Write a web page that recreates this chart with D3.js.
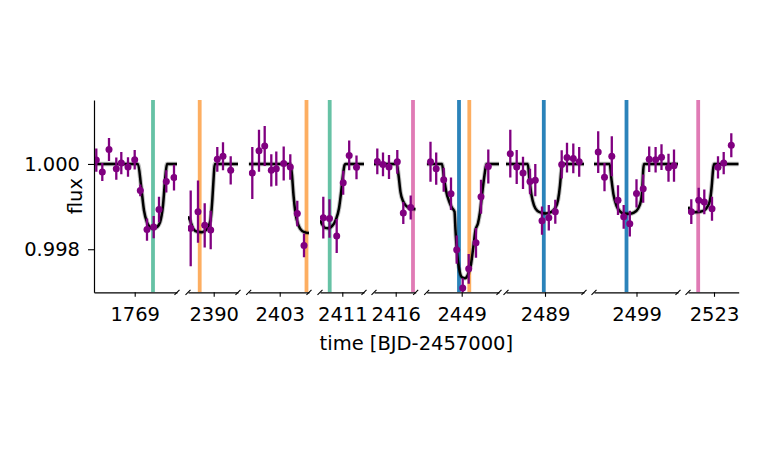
<!DOCTYPE html>
<html>
<head>
<meta charset="utf-8">
<script src="https://cdn.jsdelivr.net/npm/d3@7"></script>
<style>
  body { margin: 0; background: #fff; }
  svg { display: block; font-family: "DejaVu Sans", sans-serif; }
</style>
</head>
<body>
<svg id="chart"></svg>
<script>
// one tick (and one window) per transit
const panelTicks = [1769, 2390, 2403, 2411, 2416, 2449, 2489, 2499, 2523];
const panelSpans = [
  [1768.593, 1769.423], [2389.743, 2390.243], [2402.69, 2403.293],
  [2410.777, 2411.217], [2415.783, 2416.2], [2448.65, 2449.373],
  [2488.61, 2489.39], [2498.575, 2499.415], [2522.74, 2523.247]
];

// binned photometry
const binTime = [
  [1768.616, 1768.676, 1768.743, 1768.816, 1768.866, 1768.933, 1769.0, 1769.056, 1769.123, 1769.19, 1769.243, 1769.316, 1769.393],
  [2389.77, 2389.843, 2389.91, 2389.97, 2390.036, 2390.093, 2390.17],
  [2402.726, 2402.793, 2402.85, 2402.916, 2402.966, 2403.04, 2403.106, 2403.176, 2403.243],
  [2410.81, 2410.872, 2410.944, 2411.009, 2411.069, 2411.142],
  [2415.816, 2415.873, 2415.933, 2416.016, 2416.076, 2416.15],
  [2448.688, 2448.745, 2448.82, 2448.893, 2448.95, 2449.01, 2449.07, 2449.143, 2449.193, 2449.266],
  [2488.653, 2488.717, 2488.78, 2488.85, 2488.903, 2488.97, 2489.038, 2489.103, 2489.167, 2489.22, 2489.283, 2489.342],
  [2498.617, 2498.68, 2498.753, 2498.815, 2498.872, 2498.933, 2499.0, 2499.067, 2499.127, 2499.191, 2499.25, 2499.32, 2499.375],
  [2522.773, 2522.847, 2522.903, 2522.98, 2523.04, 2523.097, 2523.173]
];
const binFlux = [
  [1.00009, 0.99981, 1.00034, 0.99989, 1.00002, 0.99993, 1.0001, 0.99938, 0.99846, 0.99852, 0.99893, 0.99959, 0.99968],
  [0.99849, 0.99888, 0.99856, 0.99845, 1.00011, 1.00018, 0.99985],
  [0.99979, 1.00031, 1.00042, 0.99985, 0.99989, 1.00001, 0.99993, 0.99884, 0.99809],
  [0.99874, 0.99872, 0.99831, 0.99956, 1.0002, 0.99992],
  [1.00006, 0.99999, 0.99993, 1.00005, 0.99885, 0.99898],
  [1.00005, 0.99989, 0.99963, 0.9993, 0.99799, 0.99709, 0.99754, 0.99815, 0.99923, 0.99994],
  [1.00024, 0.99993, 0.99979, 0.99959, 0.99962, 0.99867, 0.99874, 0.99888, 0.99999, 1.00015, 1.00013, 1.00005],
  [1.00028, 0.99969, 1.00018, 0.99915, 0.99876, 0.9986, 0.99931, 0.99942, 1.00011, 1.0001, 1.00016, 0.99991, 0.99996],
  [0.99888, 0.99915, 0.99911, 0.99895, 0.99992, 1.00002, 1.00044]
];
const binErr = [
  [0.00027, 0.00021, 0.00027, 0.00026, 0.00026, 0.00023, 0.00023, 0.00014, 0.00026, 0.00026, 0.0003, 0.00026, 0.0003],
  [0.00089, 0.00073, 0.00052, 0.00045, 0.00029, 0.00033, 0.00033],
  [0.00061, 0.00049, 0.00047, 0.00038, 0.0004, 0.0004, 0.0003, 0.0003, 0.00028],
  [0.00049, 0.00045, 0.0004, 0.00028, 0.00035, 0.00028],
  [0.0003, 0.00028, 0.00028, 0.00028, 0.00026, 0.00028],
  [0.00047, 0.00038, 0.00028, 0.00038, 0.00033, 0.00023, 0.00035, 0.00035, 0.0004, 0.0004],
  [0.00056, 0.0004, 0.00038, 0.0003, 0.00038, 0.00033, 0.0003, 0.00028, 0.00033, 0.00035, 0.00035, 0.00035],
  [0.00049, 0.00033, 0.00047, 0.00035, 0.00028, 0.0003, 0.00033, 0.00033, 0.0003, 0.0003, 0.0003, 0.00033, 0.00038],
  [0.00029, 0.00029, 0.00029, 0.00028, 0.00026, 0.00026, 0.00028]
];

// transit model
const modelTime = [
  [1768.593, 1769.033, 1769.063, 1769.093, 1769.123, 1769.153, 1769.183, 1769.223, 1769.253, 1769.283, 1769.308, 1769.323, 1769.423],
  [2389.743, 2389.763, 2389.793, 2389.836, 2389.883, 2389.936, 2389.968, 2389.986, 2389.998, 2390.01, 2390.243],
  [2402.69, 2403.106, 2403.123, 2403.138, 2403.158, 2403.188, 2403.223, 2403.263, 2403.293],
  [2410.777, 2410.797, 2410.827, 2410.857, 2410.897, 2410.937, 2410.967, 2410.987, 2411.007, 2411.022, 2411.032, 2411.217],
  [2415.783, 2416.01, 2416.028, 2416.048, 2416.073, 2416.103, 2416.143, 2416.2],
  [2448.65, 2448.803, 2448.823, 2448.843, 2448.873, 2448.903, 2448.928, 2448.938, 2448.953, 2448.973, 2449.003, 2449.033, 2449.063, 2449.093, 2449.118, 2449.138, 2449.163, 2449.183, 2449.203, 2449.228, 2449.248, 2449.373],
  [2488.61, 2488.828, 2488.845, 2488.865, 2488.89, 2488.925, 2488.96, 2489.01, 2489.06, 2489.1, 2489.13, 2489.15, 2489.163, 2489.17, 2489.39],
  [2498.575, 2498.732, 2498.75, 2498.77, 2498.8, 2498.835, 2498.875, 2498.925, 2498.975, 2499.015, 2499.045, 2499.06, 2499.067, 2499.075, 2499.415],
  [2522.74, 2522.77, 2522.81, 2522.86, 2522.9, 2522.935, 2522.96, 2522.978, 2522.99, 2523.0, 2523.247]
];
const modelFlux = [
  [1, 1, 0.9995, 0.99891, 0.99863, 0.99852, 0.99848, 0.99852, 0.99863, 0.99903, 0.99974, 1, 1],
  [0.99877, 0.99868, 0.99849, 0.99841, 0.9984, 0.99849, 0.99868, 0.99915, 0.99962, 1, 1],
  [1, 1, 0.99974, 0.99927, 0.99884, 0.99856, 0.99843, 0.99839, 0.99838],
  [0.99868, 0.99859, 0.9985, 0.99849, 0.99854, 0.9987, 0.99896, 0.99931, 0.99974, 0.99997, 1, 1],
  [1, 1, 0.99974, 0.99934, 0.99913, 0.99902, 0.99896, 0.99894],
  [1, 1, 0.99967, 0.99938, 0.99913, 0.99897, 0.99888, 0.99845, 0.99793, 0.99756, 0.99734, 0.99732, 0.99741, 0.99765, 0.99809, 0.99845, 0.99861, 0.99887, 0.99927, 0.99974, 1, 1],
  [1, 1, 0.99962, 0.99927, 0.99903, 0.9989, 0.99886, 0.99884, 0.99887, 0.99896, 0.99915, 0.9995, 0.99985, 1, 1],
  [1, 1, 0.99963, 0.99928, 0.99902, 0.99889, 0.99884, 0.99883, 0.99886, 0.99895, 0.99914, 0.9995, 0.99985, 1, 1],
  [0.99899, 0.9989, 0.99887, 0.99888, 0.99891, 0.999, 0.99915, 0.9995, 0.99985, 1, 1]
];

// predicted mid-transit times, one colour per planet
const markerTime = [1769.183, 2389.86, 2403.268, 2410.874, 2416.173, 2448.973, 2449.076, 2488.988, 2498.9, 2522.842];
const markerColor = ['#66c2a5', '#fdae61', '#fdae61', '#66c2a5', '#e07bb5', '#2b83ba', '#fdae61', '#2b83ba', '#2b83ba', '#e07bb5'];

const yTickValues = [0.998, 1.0];

const width = 758;
const height = 465;
const plotLeft = 94;
const plotTop = 100;
const plotBottom = 292.3;
const pxPerDay = 100;
const panelGaps = [11, 10.7, 11, 10, 11, 7, 10, 10];
const fontSize = 19.5;

const svg = d3.select('#chart')
  .attr('width', width)
  .attr('height', height);

const y = d3.scaleLinear()
  .domain([0.99699, 1.0015])
  .range([plotBottom, plotTop]);

let cursor = plotLeft;
const panels = panelSpans.map((span, i) => {
  const w = (span[1] - span[0]) * pxPerDay;
  const x = d3.scaleLinear().domain(span).range([cursor, cursor + w]);
  cursor += w + (panelGaps[i] || 0);
  return { i, x, x0: x.range()[0], x1: x.range()[1] };
});
const plotRight = panels[panels.length - 1].x1;

const defs = svg.append('defs');
panels.forEach((p) => {
  defs.append('clipPath')
    .attr('id', `clip${p.i}`)
    .append('rect')
    .attr('x', p.x0)
    .attr('y', plotTop)
    .attr('width', p.x1 - p.x0)
    .attr('height', plotBottom - plotTop);
});

const line = d3.line()
  .x((d) => d[0])
  .y((d) => d[1])
  .curve(d3.curveMonotoneX);

panels.forEach((p) => {
  const g = svg.append('g').attr('clip-path', `url(#clip${p.i})`);
  const span = panelSpans[p.i];

  // transit markers
  markerTime.forEach((t, j) => {
    if (t < span[0] || t > span[1]) return;
    g.append('line')
      .attr('x1', p.x(t))
      .attr('x2', p.x(t))
      .attr('y1', plotTop)
      .attr('y2', plotBottom)
      .attr('stroke', markerColor[j])
      .attr('stroke-width', 3.8);
  });

  // model
  const pts = modelTime[p.i].map((t, k) => [p.x(t), y(modelFlux[p.i][k])]);
  g.append('path')
    .attr('d', line(pts))
    .attr('fill', 'none')
    .attr('stroke', '#000')
    .attr('stroke-opacity', 0.25)
    .attr('stroke-width', 4.5);
  g.append('path')
    .attr('d', line(pts))
    .attr('fill', 'none')
    .attr('stroke', '#000')
    .attr('stroke-width', 2.5);

  // data
  const pts2 = binTime[p.i].map((t, k) => ({ t, f: binFlux[p.i][k], e: binErr[p.i][k] }));
  g.selectAll('.err')
    .data(pts2)
    .enter()
    .append('line')
    .attr('x1', (d) => p.x(d.t))
    .attr('x2', (d) => p.x(d.t))
    .attr('y1', (d) => y(d.f - d.e))
    .attr('y2', (d) => y(d.f + d.e))
    .attr('stroke', 'purple')
    .attr('stroke-width', 2.3);
  g.selectAll('.dot')
    .data(pts2)
    .enter()
    .append('circle')
    .attr('cx', (d) => p.x(d.t))
    .attr('cy', (d) => y(d.f))
    .attr('r', 3.5)
    .attr('fill', 'purple');

  // bottom axis, one tick
  const xAxis = d3.axisBottom(p.x)
    .tickValues([panelTicks[p.i]])
    .tickFormat(d3.format('d'))
    .tickSize(4.5)
    .tickPadding(10)
    .tickSizeOuter(0);
  const ax = svg.append('g')
    .attr('transform', `translate(0,${plotBottom})`)
    .call(xAxis);
  ax.select('.domain').attr('stroke-width', 1.2);
  ax.selectAll('.tick line').attr('stroke-width', 1.1);
  ax.selectAll('.tick text')
    .attr('font-size', fontSize)
    .attr('font-family', 'DejaVu Sans')
    .attr('fill', '#000');

  // break marks
  const marks = [];
  if (p.i > 0) marks.push(p.x0);
  if (p.i < panels.length - 1) marks.push(p.x1);
  marks.forEach((mx) => {
    svg.append('line')
      .attr('x1', mx - 2.5)
      .attr('x2', mx + 2.5)
      .attr('y1', plotBottom + 2.5)
      .attr('y2', plotBottom - 2.5)
      .attr('stroke', '#000')
      .attr('stroke-width', 1.1);
  });
});

// y axis on first panel only
const yAxis = d3.axisLeft(y)
  .tickValues(yTickValues)
  .tickFormat(d3.format('.3f'))
  .tickSize(6)
  .tickPadding(8)
  .tickSizeOuter(0);
const yg = svg.append('g')
  .attr('transform', `translate(${plotLeft},0)`)
  .call(yAxis);
yg.select('.domain').attr('stroke-width', 1.2);
yg.selectAll('.tick line').attr('stroke-width', 1.1);
yg.selectAll('.tick text')
  .attr('font-size', fontSize)
  .attr('font-family', 'DejaVu Sans')
  .attr('fill', '#000');

svg.append('text')
  .attr('transform', `translate(81.5,${(plotTop + plotBottom) / 2}) rotate(-90)`)
  .attr('text-anchor', 'middle')
  .attr('font-size', fontSize)
  .text('flux');

svg.append('text')
  .attr('x', (plotLeft + plotRight) / 2)
  .attr('y', 350)
  .attr('text-anchor', 'middle')
  .attr('font-size', fontSize)
  .text('time [BJD-2457000]');
</script>
</body>
</html>
